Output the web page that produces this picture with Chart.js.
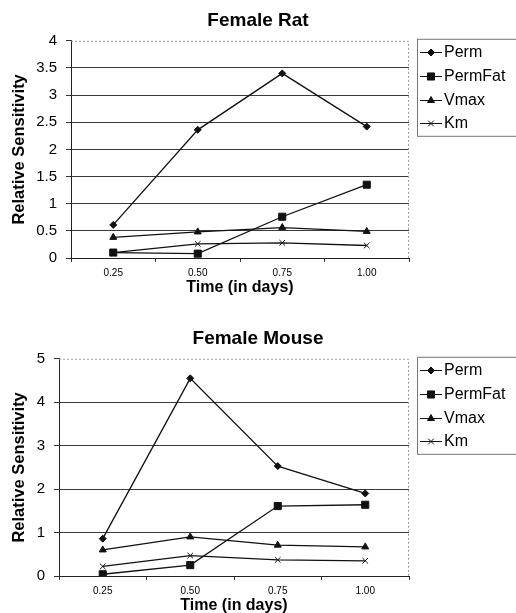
<!DOCTYPE html>
<html>
<head>
<meta charset="utf-8">
<title>Relative Sensitivity</title>
<script src="https://cdn.jsdelivr.net/npm/chart.js@4.4.0/dist/chart.umd.min.js"></script>
<style>
  html, body { margin: 0; padding: 0; background: #fff; overflow: hidden; }
  body { width: 516px; height: 613px; position: relative; }
  canvas { position: absolute; left: 0; }
  #ratChart { top: 0; }
  #mouseChart { top: 318px; }
</style>
</head>
<body>
<canvas id="ratChart" width="516" height="300"></canvas>
<canvas id="mouseChart" width="516" height="300"></canvas>
<script>
// time points (days)
const timeLabels = ['0.25', '0.50', '0.75', '1.00'];
const seriesNames = ['Perm', 'PermFat', 'Vmax', 'Km'];
const markerStyles = ['rectRot', 'rect', 'triangle', 'crossRot'];
const markerSizes = [3.5, 5, 4, 4];

// female rat
const ratPerm = [0.61, 2.36, 3.40, 2.42];
const ratPermFat = [0.10, 0.08, 0.76, 1.35];
const ratVmax = [0.38, 0.48, 0.56, 0.49];
const ratKm = [0.10, 0.26, 0.28, 0.23];
const ratYMax = 4;
const ratYStep = 0.5;

// female mouse
const mousePerm = [0.86, 4.55, 2.53, 1.90];
const mousePermFat = [0.04, 0.25, 1.61, 1.64];
const mouseVmax = [0.60, 0.90, 0.71, 0.67];
const mouseKm = [0.22, 0.47, 0.37, 0.35];
const mouseYMax = 5;
const mouseYStep = 1;

const FONT = "'Liberation Sans', Arial, sans-serif";
const INK = '#111';

Chart.defaults.font.family = FONT;
Chart.defaults.color = '#000';

// dotted grey frame on top and right of the plot (Excel style)
const plotFrame = {
	id: 'plotFrame',
	beforeDatasetsDraw(chart) {
		const { ctx, chartArea: a } = chart;
		ctx.save();
		ctx.strokeStyle = '#9a9a9a';
		ctx.lineWidth = 1;
		ctx.setLineDash([2, 2]);
		ctx.beginPath();
		ctx.moveTo(a.left, a.top + 0.5);
		ctx.lineTo(a.right - 0.5, a.top + 0.5);
		ctx.lineTo(a.right - 0.5, a.bottom);
		ctx.stroke();
		ctx.restore();
	},
};

// boxed legend to the right of the plot
const boxLegend = {
	id: 'boxLegend',
	afterDraw(chart) {
		const { ctx, chartArea: a } = chart;
		const left = a.right + 8;
		const top = a.top - 2;
		ctx.save();
		ctx.lineWidth = 1;
		ctx.strokeStyle = '#777';
		ctx.strokeRect(left + 0.5, top + 0.5, 120, 97);
		ctx.font = '16px ' + FONT;
		ctx.textBaseline = 'middle';
		chart.data.datasets.forEach((ds, i) => {
			const y = Math.round(top + 13.5 + i * 23.7) + 0.5;
			ctx.strokeStyle = ds.borderColor;
			ctx.fillStyle = ds.backgroundColor;
			ctx.lineWidth = 1;
			ctx.beginPath();
			ctx.moveTo(left + 3, y);
			ctx.lineTo(left + 25, y);
			ctx.stroke();
			Chart.helpers.drawPoint(ctx, {
				pointStyle: ds.pointStyle,
				radius: ds.pointRadius,
				borderWidth: 1,
				rotation: 0,
			}, left + 14, y);
			ctx.fillStyle = '#000';
			ctx.fillText(ds.label, left + 27, y);
		});
		ctx.restore();
	},
};

function makeChart(id, title, values, yMax, yStep, yAxisWidth) {
	const datasets = values.map((data, i) => ({
		label: seriesNames[i],
		data: data,
		borderColor: INK,
		backgroundColor: INK,
		borderWidth: 1.3,
		pointStyle: markerStyles[i],
		pointRadius: markerSizes[i],
		pointBorderWidth: 1,
		tension: 0,
		fill: false,
	}));

	return new Chart(document.getElementById(id), {
		type: 'line',
		data: { labels: timeLabels, datasets: datasets },
		plugins: [plotFrame, boxLegend],
		options: {
			responsive: false,
			animation: false,
			events: [],
			plugins: {
				legend: { display: false },
				tooltip: { enabled: false },
				title: {
					display: true,
					text: title,
					color: '#000',
					font: { size: 19, weight: 'bold' },
					padding: { top: 9, bottom: 9 },
				},
			},
			scales: {
				x: {
					offset: true,
					grid: {
						offset: true,
						drawOnChartArea: false,
						tickLength: 4,
						tickColor: '#333',
					},
					border: { color: '#222' },
					ticks: { font: { size: 10 }, padding: 5, color: '#000' },
					title: {
						display: true,
						text: 'Time (in days)',
						color: '#000',
						font: { size: 16, weight: 'bold' },
						padding: { top: 0, bottom: 3 },
					},
					afterFit(scale) {
						scale.height = 42;
					},
				},
				y: {
					min: 0,
					max: yMax,
					ticks: {
						stepSize: yStep,
						font: { size: 15 },
						padding: 9,
						color: '#000',
						callback: (v) => String(v),
					},
					grid: {
						color: (c) => (c.tick && c.tick.value === yMax ? 'rgba(0,0,0,0)' : '#3a3a3a'),
						tickLength: 5,
						tickColor: '#333',
					},
					border: { color: '#222' },
					title: {
						display: true,
						text: 'Relative Sensitivity',
						color: '#000',
						font: { size: 16.5, weight: 'bold' },
						padding: { top: 10, bottom: 0 },
					},
					afterFit(scale) {
						scale.width = yAxisWidth;
					},
				},
				// empty right-hand band that holds the legend box
				legendBand: {
					position: 'right',
					grid: { display: false },
					ticks: { display: false },
					border: { display: false },
					afterFit(scale) {
						scale.width = 107;
					},
				},
			},
		},
	});
}

makeChart('ratChart', 'Female Rat', [ratPerm, ratPermFat, ratVmax, ratKm], ratYMax, ratYStep, 71);
makeChart('mouseChart', 'Female Mouse', [mousePerm, mousePermFat, mouseVmax, mouseKm], mouseYMax, mouseYStep, 59);
</script>
</body>
</html>
